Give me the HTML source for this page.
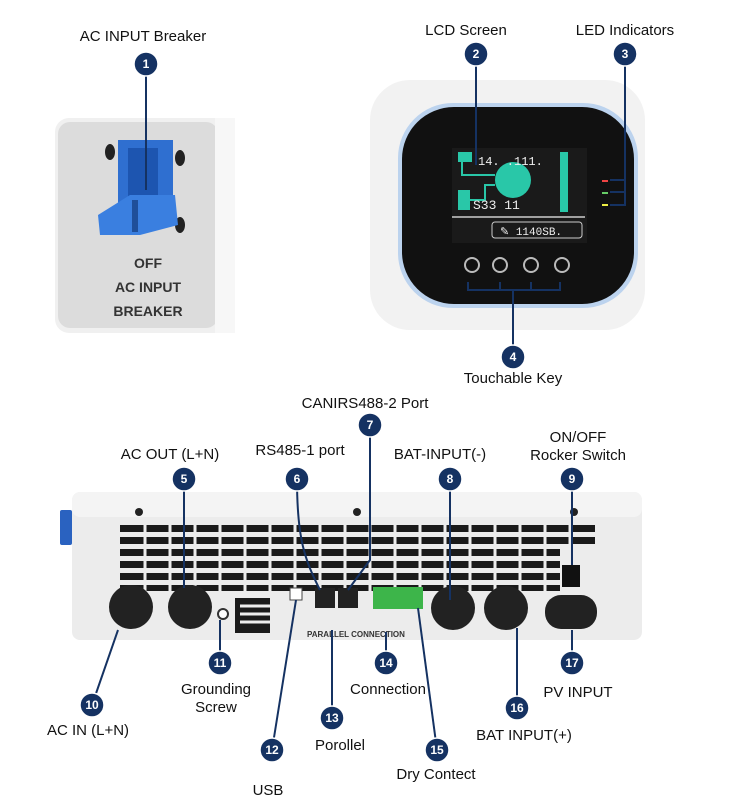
<!DOCTYPE html>
<html><head><meta charset="utf-8"><style>
body{margin:0;background:#fff;}
svg{display:block;font-family:"Liberation Sans",sans-serif;}
</style></head><body>
<svg width="750" height="808" viewBox="0 0 750 808">
<defs>
<g id="b"><circle r="12" fill="#153262" stroke="#fff" stroke-width="1.5"/></g>
</defs>
<!-- breaker panel -->
<rect x="55" y="118" width="180" height="215" rx="14" fill="#f0f0f0"/>
<rect x="58" y="122" width="160" height="206" rx="12" fill="#dcdcdc"/>
<rect x="215" y="118" width="20" height="215" fill="#f7f7f7"/>
<ellipse cx="110" cy="152" rx="5" ry="8" fill="#222"/><ellipse cx="180" cy="158" rx="5" ry="8" fill="#222"/>
<ellipse cx="110" cy="220" rx="5" ry="8" fill="#222"/><ellipse cx="180" cy="225" rx="5" ry="8" fill="#222"/>
<rect x="118" y="140" width="55" height="65" fill="#2f6fd0"/>
<rect x="128" y="148" width="30" height="50" fill="#1d55b0"/>
<path d="M98 215 L130 195 L175 195 L178 225 L140 235 L100 235 Z" fill="#3a7fe0"/>
<rect x="132" y="200" width="6" height="32" fill="#1f4f9a"/>
<text x="148" y="268" font-size="14" font-weight="bold" text-anchor="middle" fill="#333">OFF</text>
<text x="148" y="292" font-size="14" font-weight="bold" text-anchor="middle" fill="#333">AC INPUT</text>
<text x="148" y="316" font-size="14" font-weight="bold" text-anchor="middle" fill="#333">BREAKER</text>
<!-- LCD -->
<rect x="370" y="80" width="275" height="250" rx="40" fill="#f2f2f2"/>
<rect x="398" y="103" width="240" height="205" rx="55" fill="#bcd3ee"/>
<rect x="402" y="107" width="232" height="197" rx="52" fill="#111"/>
<rect x="452" y="148" width="135" height="95" fill="#1a1a1a"/>
<circle cx="513" cy="180" r="18" fill="#29c7a8"/>
<rect x="458" y="152" width="14" height="10" fill="#29c7a8"/>
<rect x="560" y="152" width="8" height="60" fill="#29c7a8"/>
<rect x="458" y="190" width="12" height="20" fill="#29c7a8"/>
<path d="M462 162 V175 H495 M470 200 H485 V185 H495" stroke="#29c7a8" stroke-width="2" fill="none"/>
<text x="478" y="165" font-size="12" fill="#eee" font-family="Liberation Mono">14. .111.</text>
<text x="473" y="209" font-size="13" fill="#eee" font-family="Liberation Mono">S33   11</text>
<line x1="452" y1="217" x2="585" y2="217" stroke="#ccc" stroke-width="1.5"/>
<rect x="492" y="222" width="90" height="16" rx="3" fill="none" stroke="#ccc"/>
<text x="500" y="235" font-size="11" fill="#eee" font-family="Liberation Mono">✎ 1140SB.</text>
<circle cx="472" cy="265" r="7" fill="none" stroke="#bbb" stroke-width="2"/>
<circle cx="500" cy="265" r="7" fill="none" stroke="#bbb" stroke-width="2"/>
<circle cx="531" cy="265" r="7" fill="none" stroke="#bbb" stroke-width="2"/>
<circle cx="562" cy="265" r="7" fill="none" stroke="#bbb" stroke-width="2"/>
<rect x="602" y="180" width="6" height="2" fill="#e44"/><rect x="602" y="192" width="6" height="2" fill="#6c6"/><rect x="602" y="204" width="6" height="2" fill="#ee4"/>
<!-- device -->
<rect x="60" y="510" width="12" height="35" rx="2" fill="#2a62c0"/>
<rect x="72" y="492" width="570" height="148" rx="8" fill="#ececec"/>
<rect x="72" y="492" width="570" height="25" rx="8" fill="#f4f4f4"/>
<circle cx="139" cy="512" r="4" fill="#222"/><circle cx="357" cy="512" r="4" fill="#222"/><circle cx="574" cy="512" r="4" fill="#222"/>
<g fill="#1a1a1a">
<rect x="120" y="525" width="475" height="7"/>
<rect x="120" y="537" width="475" height="7"/>
<rect x="120" y="549" width="440" height="7"/>
<rect x="120" y="561" width="440" height="7"/>
<rect x="120" y="573" width="440" height="7"/>
<rect x="120" y="585" width="440" height="6"/>
<rect x="235" y="598" width="35" height="35"/>
</g>
<g stroke="#ececec" stroke-width="3">
<path d="M145 525v66M170 525v66M195 525v66M220 525v66M245 525v66M270 525v66M295 525v66M320 525v66M345 525v66M370 525v66M395 525v66M420 525v66M445 525v66M470 525v66M495 525v66M520 525v66M545 525v66M570 525v20"/>
<path d="M240 606h30M240 614h30M240 622h30"/>
</g>
<rect x="562" y="565" width="18" height="22" fill="#111"/>
<rect x="290" y="588" width="12" height="12" fill="#fff" stroke="#444"/>
<rect x="315" y="588" width="20" height="20" fill="#222"/><rect x="338" y="588" width="20" height="20" fill="#222"/>
<rect x="373" y="587" width="50" height="22" fill="#3db54a"/>
<circle cx="131" cy="607" r="22" fill="#222"/><circle cx="190" cy="607" r="22" fill="#222"/>
<circle cx="453" cy="608" r="22" fill="#222"/><circle cx="506" cy="608" r="22" fill="#222"/>
<rect x="545" y="595" width="52" height="34" rx="16" fill="#222"/>
<circle cx="223" cy="614" r="5" fill="#fff" stroke="#333" stroke-width="2"/>
<text x="307" y="637" font-size="8" fill="#333" font-weight="bold">PARALLEL CONNECTION</text>
<!-- connectors -->
<g stroke="#153262" stroke-width="2" fill="none">
<path d="M146 64V190"/><path d="M476 54V165"/><path d="M625 54V205H610M625 180H610M625 192H610"/>
<path d="M513 357V290M468 282V290H560V282M500 282v8M531 282v8"/>
<path d="M184 479V588"/><path d="M297 479C297 540 305 560 320 590"/><path d="M370 425V560L348 590"/>
<path d="M450 479V600"/><path d="M572 479V565"/><path d="M92 705L118 630"/>
<path d="M220 663V620"/><path d="M272 750L296 600"/><path d="M332 718V630"/><path d="M386 663V632"/>
<path d="M437 750L418 608"/><path d="M517 708V628"/><path d="M572 663V630"/>
</g>
<g font-size="12" font-weight="bold" fill="#fff" text-anchor="middle">
<use href="#b" x="146" y="64"/><text x="146" y="68">1</text>
<use href="#b" x="476" y="54"/><text x="476" y="58">2</text>
<use href="#b" x="625" y="54"/><text x="625" y="58">3</text>
<use href="#b" x="513" y="357"/><text x="513" y="361">4</text>
<use href="#b" x="184" y="479"/><text x="184" y="483">5</text>
<use href="#b" x="297" y="479"/><text x="297" y="483">6</text>
<use href="#b" x="370" y="425"/><text x="370" y="429">7</text>
<use href="#b" x="450" y="479"/><text x="450" y="483">8</text>
<use href="#b" x="572" y="479"/><text x="572" y="483">9</text>
<use href="#b" x="92" y="705"/><text x="92" y="709">10</text>
<use href="#b" x="220" y="663"/><text x="220" y="667">11</text>
<use href="#b" x="272" y="750"/><text x="272" y="754">12</text>
<use href="#b" x="332" y="718"/><text x="332" y="722">13</text>
<use href="#b" x="386" y="663"/><text x="386" y="667">14</text>
<use href="#b" x="437" y="750"/><text x="437" y="754">15</text>
<use href="#b" x="517" y="708"/><text x="517" y="712">16</text>
<use href="#b" x="572" y="663"/><text x="572" y="667">17</text>
</g>
<g font-size="15" fill="#111" text-anchor="middle">
<text x="143" y="41">AC INPUT Breaker</text>
<text x="466" y="35">LCD Screen</text>
<text x="625" y="35">LED Indicators</text>
<text x="513" y="383">Touchable Key</text>
<text x="170" y="459">AC OUT  (L+N)</text>
<text x="300" y="455">RS485-1 port</text>
<text x="365" y="408">CANIRS488-2 Port</text>
<text x="440" y="459">BAT-INPUT(-)</text>
<text x="578" y="442">ON/OFF</text>
<text x="578" y="460">Rocker Switch</text>
<text x="88" y="735">AC IN  (L+N)</text>
<text x="216" y="694">Grounding</text>
<text x="216" y="712">Screw</text>
<text x="268" y="795">USB</text>
<text x="340" y="750">Porollel</text>
<text x="388" y="694">Connection</text>
<text x="436" y="779">Dry Contect</text>
<text x="524" y="740">BAT INPUT(+)</text>
<text x="578" y="697">PV INPUT</text>
</g>
</svg>
</body></html>
